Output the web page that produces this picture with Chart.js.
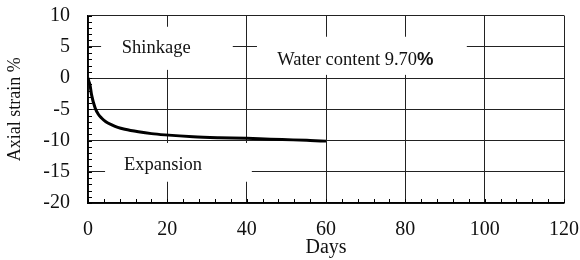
<!DOCTYPE html>
<html>
<head>
<meta charset="utf-8">
<script src="https://cdn.jsdelivr.net/npm/chart.js@4"></script>
<style>
  html, body { margin: 0; padding: 0; background: #fff; }
  #wrap { width: 580px; height: 260px; }
</style>
</head>
<body>
<div id="wrap"><canvas id="c" width="580" height="260"></canvas></div>
<script>
// 数据
const days = [0, 0.25, 0.5, 0.9, 1.8, 2.6, 3.4, 4.5, 6, 7.5, 9.3, 12.7, 16, 19.4, 26.5, 33, 40, 46, 51.7, 56, 60];
const strain = [0, -0.6, -1.1, -2.7, -4.8, -5.8, -6.4, -7.0, -7.5, -7.9, -8.2, -8.6, -8.9, -9.1, -9.4, -9.55, -9.65, -9.8, -9.9, -10.0, -10.1];

const xTicks = [0, 20, 40, 60, 80, 100, 120];
const yTicks = [-20, -15, -10, -5, 0, 5, 10];

const SERIF = '"Liberation Serif", "Times New Roman", serif';

// 文字标注（带白底遮住网格线）
const notes = [
  { box: [3.3, 36.5, 8.2, 1.3], text: 'Shinkage', at: [17.2, 4.8] },
  { box: [42.6, 95.5, 6.6, 0.5], text: 'Water content 9.70', pct: true, at: [67.4, 2.9] },
  { box: [4.3, 41.3, -10.4, -16.6], text: 'Expansion', at: [18.9, -13.9] }
];

const notesPlugin = {
  id: 'notes',
  beforeDatasetsDraw(chart) {
    const { ctx, scales: { x, y } } = chart;
    ctx.save();
    notes.forEach(n => {
      const x0 = x.getPixelForValue(n.box[0]);
      const x1 = x.getPixelForValue(n.box[1]);
      const y0 = y.getPixelForValue(n.box[2]);
      const y1 = y.getPixelForValue(n.box[3]);
      ctx.fillStyle = '#fff';
      ctx.fillRect(x0, y0, x1 - x0, y1 - y0);
      ctx.fillStyle = '#111';
      ctx.textBaseline = 'middle';
      const tx = x.getPixelForValue(n.at[0]);
      const ty = y.getPixelForValue(n.at[1]);
      ctx.font = '18.5px ' + SERIF;
      if (n.pct) {
        const w1 = ctx.measureText(n.text).width;
        ctx.font = 'bold 18.5px "Liberation Sans", Arial, sans-serif';
        const w2 = ctx.measureText('%').width;
        const start = tx - (w1 + w2) / 2;
        ctx.textAlign = 'left';
        ctx.fillText('%', start + w1, ty);
        ctx.font = '18.5px ' + SERIF;
        ctx.fillText(n.text, start, ty);
      } else {
        ctx.textAlign = 'center';
        ctx.fillText(n.text, tx, ty);
      }
    });
    ctx.restore();
  }
};

// 内向小刻度
const minorTicks = {
  id: 'minorTicks',
  afterDraw(chart) {
    const { ctx, chartArea: a, scales: { x, y } } = chart;
    ctx.save();
    ctx.strokeStyle = '#000';
    ctx.lineWidth = 1;
    ctx.beginPath();
    for (let v = y.min; v <= y.max; v += 1) {
      const py = Math.round(y.getPixelForValue(v)) + 0.5;
      ctx.moveTo(a.left, py);
      ctx.lineTo(a.left + 4, py);
    }
    for (let v = x.min; v <= x.max; v += 4) {
      const px = Math.round(x.getPixelForValue(v)) + 0.5;
      ctx.moveTo(px, a.bottom);
      ctx.lineTo(px, a.bottom - 4);
    }
    ctx.stroke();
    ctx.restore();
  }
};

new Chart(document.getElementById('c'), {
  type: 'line',
  data: {
    datasets: [{
      data: days.map((d, i) => ({ x: d, y: strain[i] })),
      borderColor: '#000',
      borderWidth: 3,
      pointRadius: 0,
      cubicInterpolationMode: 'monotone',
      fill: false
    }]
  },
  options: {
    responsive: false,
    animation: false,
    layout: { padding: { top: 15.5, right: 16, bottom: 0, left: 0 } },
    plugins: { legend: { display: false }, tooltip: { enabled: false } },
    scales: {
      x: {
        type: 'linear',
        min: 0,
        max: 120,
        afterBuildTicks: s => { s.ticks = xTicks.map(v => ({ value: v })); },
        afterFit: s => { s.height = 57; s.paddingLeft = 0; s.paddingRight = 0; },
        grid: { color: '#222', lineWidth: 1, drawTicks: false },
        border: { color: '#000', width: 1.5 },
        ticks: { color: '#111', padding: 15, maxRotation: 0, font: { family: SERIF, size: 20 } },
        title: { display: true, text: 'Days', color: '#111', padding: { top: 0, bottom: 0 }, font: { family: SERIF, size: 20 } }
      },
      y: {
        min: -20,
        max: 10,
        afterBuildTicks: s => { s.ticks = yTicks.map(v => ({ value: v })); },
        afterFit: s => { s.width = 88; s.paddingTop = 0; s.paddingBottom = 0; },
        grid: { color: '#222', lineWidth: 1, drawTicks: false },
        border: { color: '#000', width: 1.5 },
        ticks: { color: '#111', padding: 18, font: { family: SERIF, size: 20 } },
        title: { display: true, text: 'Axial strain %', color: '#111', padding: { top: 4, bottom: 0 }, font: { family: SERIF, size: 18 } }
      }
    }
  },
  plugins: [notesPlugin, minorTicks]
});
</script>
</body>
</html>
